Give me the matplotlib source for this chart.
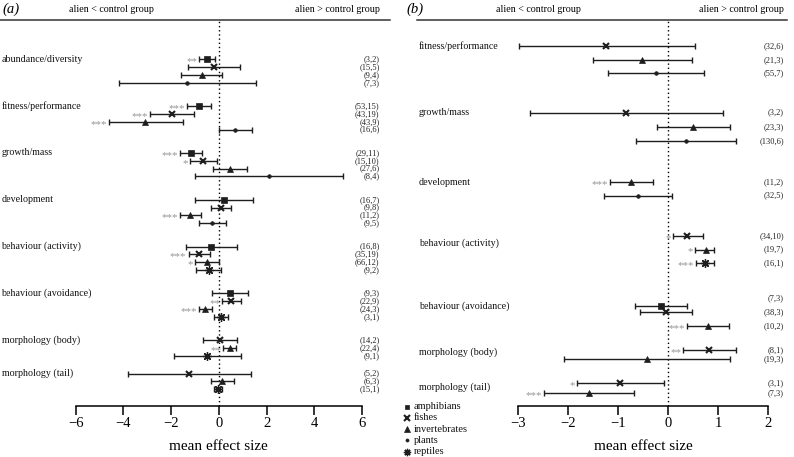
import matplotlib
matplotlib.use('Agg')
import matplotlib.pyplot as plt
from matplotlib.lines import Line2D
from matplotlib.transforms import blended_transform_factory

plt.rcParams['font.family'] = ['Liberation Serif', 'DejaVu Serif']

W, H = 794, 457

# ---- panel (a): all taxa ----
cats_a = ['abundance/diversity', 'fitness/performance', 'growth/mass', 'development',
          'behaviour (activity)', 'behaviour (avoidance)', 'morphology (body)',
          'morphology (tail)']
grp_a = [0, 0, 0, 0, 1, 1, 1, 1, 2, 2, 2, 2, 3, 3, 3, 3,
         4, 4, 4, 4, 5, 5, 5, 5, 6, 6, 6, 7, 7, 7]
taxon_a = ['amphibians', 'fishes', 'invertebrates', 'plants'] * 4 + \
          ['amphibians', 'fishes', 'invertebrates', 'reptiles'] * 2 + \
          ['fishes', 'invertebrates', 'reptiles'] * 2
mean_a = [-0.50, -0.22, -0.71, -1.35,
          -0.82, -1.97, -3.08, 0.68,
          -1.17, -0.66, 0.45, 2.11,
          0.21, 0.11, -1.20, -0.28,
          -0.32, -0.85, -0.51, -0.43,
          0.46, 0.50, -0.57, 0.07,
          0.03, 0.45, -0.49,
          -1.24, 0.15, -0.04]
lo_a = [-0.82, -1.31, -1.58, -4.20,
        -1.34, -2.87, -4.62, -0.01,
        -1.63, -1.20, -0.25, -0.99,
        -1.02, -0.31, -1.62, -0.82,
        -1.38, -1.27, -0.99, -0.96,
        -0.29, 0.15, -0.84, -0.22,
        -0.68, 0.18, -1.88,
        -3.81, -0.31, -0.22]
hi_a = [-0.18, 0.88, 0.15, 1.55,
        -0.32, -1.06, -1.52, 1.37,
        -0.70, -0.08, 1.16, 5.20,
        1.45, 0.53, -0.75, 0.31,
        0.74, -0.39, 0.00, 0.08,
        1.23, 0.91, -0.28, 0.39,
        0.77, 0.72, 0.92,
        1.34, 0.63, 0.13]
n_a = ['(3,2)', '(15,5)', '(9,4)', '(7,3)',
       '(53,15)', '(43,19)', '(43,9)', '(16,6)',
       '(29,11)', '(15,10)', '(27,6)', '(8,4)',
       '(16,7)', '(9,8)', '(11,2)', '(9,5)',
       '(16,8)', '(35,19)', '(66,12)', '(9,2)',
       '(9,3)', '(22,9)', '(24,3)', '(3,1)',
       '(14,2)', '(22,4)', '(9,1)',
       '(5,2)', '(6,3)', '(15,1)']
sig_a = ['**', '', '', '',
         '***', '***', '***', '',
         '***', '*', '', '',
         '', '', '***', '',
         '', '***', '*', '',
         '', '**', '***', '',
         '', '**', '',
         '', '', '']

# ---- panel (b): native vs alien ----
cats_b = ['fitness/performance', 'growth/mass', 'development', 'behaviour (activity)',
          'behaviour (avoidance)', 'morphology (body)', 'morphology (tail)']
grp_b = [0, 0, 0, 1, 1, 1, 2, 2, 3, 3, 3, 4, 4, 4, 5, 5, 6, 6]
taxon_b = ['fishes', 'invertebrates', 'plants',
           'fishes', 'invertebrates', 'plants',
           'invertebrates', 'plants',
           'fishes', 'invertebrates', 'reptiles',
           'amphibians', 'fishes', 'invertebrates',
           'fishes', 'invertebrates',
           'fishes', 'invertebrates']
mean_b = [-1.23, -0.51, -0.24, -0.83, 0.49, 0.35, -0.73, -0.60,
          0.38, 0.76, 0.73, -0.14, -0.04, 0.79, 0.82, -0.42, -0.95, -1.58]
lo_b = [-2.97, -1.49, -1.19, -2.75, -0.22, -0.64, -1.15, -1.27,
        0.09, 0.53, 0.55, -0.65, -0.56, 0.38, 0.30, -2.08, -1.81, -2.47]
hi_b = [0.53, 0.47, 0.71, 1.10, 1.23, 1.36, -0.30, 0.08,
        0.69, 0.92, 0.92, 0.38, 0.48, 1.21, 1.36, 1.24, -0.09, -0.68]
n_b = ['(32,6)', '(21,3)', '(55,7)', '(3,2)', '(23,3)', '(130,6)', '(11,2)', '(32,5)',
       '(34,10)', '(19,7)', '(16,1)', '(7,3)', '(38,3)', '(10,2)', '(8,1)', '(19,3)',
       '(3,1)', '(7,3)']
sig_b = ['', '', '', '', '', '', '***', '',
         '*', '*', '***', '', '', '***', '**', '', '*', '***']

# row layout (slot positions)
start_a = [0, 6, 12, 18, 24, 30, 36, 40.3]
pos_b = [0, 1.04, 2.0, 4.96, 6.04, 7.06, 10.1, 11.1, 14.1, 15.1, 16.1,
         19.26, 19.75, 20.74, 22.56, 23.23, 24.99, 25.75]
lab_b = list(pos_b)
lab_b[11] = 18.71
cat_y_b = [0, 4.96, 10.1, 14.65, 19.3, 22.7, 25.33]

pos_a = []
for i, g in enumerate(grp_a):
    k = sum(1 for j in range(i) if grp_a[j] == g)
    pos_a.append(start_a[g] + k)
cat_y_a = list(start_a)

styles = {
    'amphibians': dict(marker='s', ms=4.2, mew=0.5),
    'fishes': dict(marker='x', ms=4.3, mew=1.5),
    'invertebrates': dict(marker='^', ms=4.8, mew=0.5),
    'plants': dict(marker='o', ms=2.6, mew=0.5),
    'reptiles': dict(marker=(8, 2, 0), ms=6.2, mew=0.95),
}
ink = '#1e1e1e'

fig = plt.figure(figsize=(W / 100, H / 100), dpi=100)


def fx(px):
    return px / W


def fy(py):
    return 1 - py / H


def panel(rect, xlim, ticks, ylim, pos, mean, lo, hi, taxa, sig, nlab, nlab_y,
          cats, cat_y, cat_x, n_x):
    ax = fig.add_axes(rect)
    ax.set_xlim(xlim)
    ax.set_ylim(ylim)
    for s in ['left', 'right', 'top']:
        ax.spines[s].set_visible(False)
    ax.spines['bottom'].set_linewidth(1.1)
    ax.set_yticks([])
    ax.set_xticks(ticks)
    ax.set_xticklabels([str(t).replace('-', '\u2212') for t in ticks])
    ax.tick_params(axis='x', length=6.5, width=1.1, pad=1.5, labelsize=10.5)
    ax.patch.set_alpha(0)
    ax.axvline(0, color='black', lw=1.0, ls=(0, (1, 2)), zorder=1)

    for y, m, l, h, t, s in zip(pos, mean, lo, hi, taxa, sig):
        ax.errorbar([m], [y], xerr=[[m - l], [h - m]], fmt='none', ecolor=ink,
                    elinewidth=1.0, capsize=2.3, capthick=1.0, zorder=2)
        st = styles[t]
        ax.plot([m], [y], linestyle='none', marker=st['marker'], ms=st['ms'],
                mew=st['mew'], color=ink, mec=ink, zorder=3)
        if s:
            ax.annotate(s, xy=(l, y), xytext=(-1.5, -3.6), textcoords='offset points',
                        ha='right', va='baseline', color='#959595', fontsize=7.8)

    tr = blended_transform_factory(fig.transFigure, ax.transData)
    for y, t in zip(nlab_y, nlab):
        ax.text(fx(n_x), y, t, transform=tr, ha='right', va='center', fontsize=6,
                color='#222222', clip_on=False)
    for y, c in zip(cat_y, cats):
        ax.text(fx(cat_x), y, c, transform=tr, ha='left', va='center', fontsize=7.2,
                color='#111111', clip_on=False)

    ax.set_xlabel('mean effect size', fontsize=11)
    ax.xaxis.label.set_va('center')
    ax.xaxis.set_label_coords(0.5, (406 - 446.7) / 386)
    return ax


# panel (a)
panel([fx(75.7), fy(406), fx(362) - fx(75.7), (406 - 20) / H],
      (-6, 6), [-6, -4, -2, 0, 2, 4, 6],
      ((406 - 59.3) / 7.8, (20 - 59.3) / 7.8),
      pos_a, mean_a, lo_a, hi_a, taxon_a, sig_a, n_a, pos_a,
      cats_a, cat_y_a, 1.5, 379.5)

# panel (b)
panel([fx(517.7), fy(406), fx(768.3) - fx(517.7), (406 - 20) / H],
      (-3, 2), [-3, -2, -1, 0, 1, 2],
      ((406 - 45.7) / 13.5, (20 - 45.7) / 13.5),
      pos_b, mean_b, lo_b, hi_b, taxon_b, sig_b, n_b, lab_b,
      cats_b, cat_y_b, 419, 784)

# header lines and texts
fig.add_artist(Line2D([fx(0), fx(390)], [fy(20), fy(20)], color='#333333', lw=1.1))
fig.add_artist(Line2D([fx(417), fx(787)], [fy(20), fy(20)], color='#333333', lw=1.1))
fig.text(fx(2), fy(9), '(a)', fontsize=10.5, style='italic', va='center', ha='left')
fig.text(fx(406), fy(9), '(b)', fontsize=10.5, style='italic', va='center', ha='left')
fig.text(fx(69), fy(9), 'alien < control group', fontsize=7.2, va='center', ha='left')
fig.text(fx(379.5), fy(9), 'alien > control group', fontsize=7.2, va='center', ha='right')
fig.text(fx(496), fy(9), 'alien < control group', fontsize=7.2, va='center', ha='left')
fig.text(fx(784), fy(9), 'alien > control group', fontsize=7.2, va='center', ha='right')

# legend
legend_taxa = ['amphibians', 'fishes', 'invertebrates', 'plants', 'reptiles']
for i, t in enumerate(legend_taxa):
    yy = 406.7 + i * 11.25
    st = styles[t]
    fig.add_artist(Line2D([fx(407.3)], [fy(yy)], linestyle='none', marker=st['marker'],
                          ms=st['ms'] * 0.85, mew=st['mew'], color=ink, mec=ink))
    fig.text(fx(414), fy(yy), t, fontsize=7.5, va='center', ha='left', color='#111111')

fig.savefig('out.png', dpi=100)
